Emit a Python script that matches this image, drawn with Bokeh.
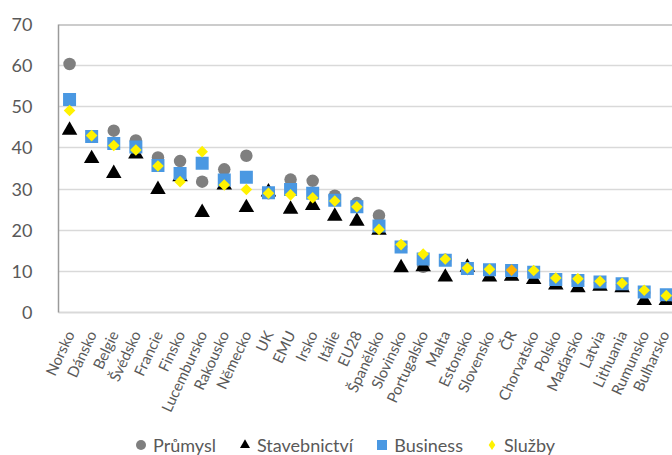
import numpy as np
from bokeh.plotting import figure
from bokeh.layouts import column
from bokeh.models import (ColumnDataSource, FixedTicker, Legend, LegendItem,
                          Span, Range1d)
from bokeh.embed import file_html
from bokeh.resources import INLINE

# Countries, sorted by the business confidence level
countries = ["Norsko", "Dánsko", "Belgie", "Švédsko", "Francie", "Finsko",
             "Lucembursko", "Rakousko", "Německo", "UK", "EMU", "Irsko",
             "Itálie", "EU28", "Španělsko", "Slovinsko", "Portugalsko", "Malta",
             "Estonsko", "Slovensko", "ČR", "Chorvatsko", "Polsko", "Maďarsko",
             "Latvia", "Lithuania", "Rumunsko", "Bulharsko"]

prumysl = [60.4, 42.8, 44.2, 41.8, 37.7, 36.8, 31.8, 34.8, 38.1, 29.0,
           32.3, 32.0, 28.4, 26.6, 23.6, 16.0, 11.1, 12.8, 10.6, 10.0,
           10.0, 9.8, 7.8, 7.6, 7.3, 6.8, 4.8, 4.0]
stavebnictvi = [44.3, 37.4, 33.8, 38.5, 29.9, 33.0, 24.3, 31.0, 25.5, 29.3,
                25.1, 26.0, 23.4, 22.2, 20.0, 10.9, 11.1, 8.6, 11.0, 8.6,
                8.8, 8.0, 6.7, 6.0, 6.4, 6.0, 2.9, 2.9]
business = [51.8, 42.8, 41.1, 40.2, 35.7, 33.8, 36.3, 32.2, 32.9, 29.1,
            29.9, 29.0, 27.3, 25.7, 21.0, 15.9, 13.0, 12.7, 10.7, 10.4,
            10.2, 9.8, 8.0, 7.8, 7.4, 7.0, 5.0, 4.3]
sluzby = [49.1, 43.0, 40.6, 39.5, 35.6, 31.8, 39.1, 31.0, 29.9, 29.0,
          28.6, 27.9, 27.1, 25.7, 20.2, 16.5, 14.2, 13.0, 10.8, 10.5,
          10.3, 10.2, 8.4, 8.2, 7.6, 7.1, 5.4, 4.1]

series_names = ["Průmysl", "Stavebnictví", "Business", "Služby"]
highlighted = "ČR"
y_ticks = [0, 10, 20, 30, 40, 50, 60, 70]

C_GRAY = "#7f7f7f"
C_BLACK = "#000000"
C_BLUE = "#4a98e2"
C_YELLOW = "#fff200"
C_ORANGE = "#ffb100"
TEXT = "#595959"
FONT = "Lato"

xpos = [i + 0.5 for i in range(len(countries))]
src = ColumnDataSource(dict(
    x=xpos, country=countries, p=prumysl, s=stavebnictvi, b=business,
    z=sluzby,
    zc=[C_ORANGE if c == highlighted else C_YELLOW for c in countries],
))

p = figure(frame_width=614, frame_height=288, output_backend="svg",
           toolbar_location=None,
           x_range=Range1d(0, 27.78), y_range=Range1d(0, 70),
           min_border_left=58, min_border_top=24, min_border_right=0,
           min_border_bottom=118)
p.outline_line_color = None
p.background_fill_color = "white"
p.border_fill_color = "white"

# value axis
p.yaxis.ticker = FixedTicker(ticks=y_ticks)
p.yaxis.major_tick_line_color = None
p.yaxis.minor_tick_line_color = None
p.yaxis.axis_line_color = "#9a9a9a"
p.yaxis.axis_line_width = 1.5
p.yaxis.major_label_standoff = 20
p.yaxis.major_label_text_font = FONT
p.yaxis.major_label_text_font_size = "18px"
p.yaxis.major_label_text_color = TEXT

# category axis
p.xaxis.ticker = FixedTicker(ticks=xpos)
p.xaxis.major_label_overrides = {x: c for x, c in zip(xpos, countries)}
p.xaxis.major_label_orientation = np.deg2rad(65)
p.xaxis.major_tick_line_color = None
p.xaxis.minor_tick_line_color = None
p.xaxis.axis_line_color = "#d9d9d9"
p.xaxis.axis_line_width = 2
p.xaxis.major_label_standoff = 13
p.xaxis.major_label_text_font = FONT
p.xaxis.major_label_text_font_size = "15px"
p.xaxis.major_label_text_color = TEXT

p.xgrid.grid_line_color = None
p.ygrid.ticker = FixedTicker(ticks=y_ticks)
p.ygrid.grid_line_color = "#d9d9d9"
p.ygrid.grid_line_width = 1.5

# top frame edge
p.add_layout(Span(location=70, dimension="width", line_color="#9a9a9a",
                  line_width=2))

p.scatter("x", "p", source=src, marker="circle", size=12.5,
          fill_color=C_GRAY, line_color=None)
p.scatter("x", "s", source=src, marker="triangle", size=15.5,
          fill_color=C_BLACK, line_color=None)
p.scatter("x", "b", source=src, marker="square", size=13,
          fill_color=C_BLUE, line_color=None)
p.scatter("x", "z", source=src, marker="square", size=8.2, angle=np.pi / 4,
          fill_color="zc", line_color=None)

# legend strip under the chart (its frame lines up with the chart's frame)
lf = figure(width=672, height=25, output_backend="svg", toolbar_location=None,
            x_axis_type=None, y_axis_type=None,
            x_range=Range1d(0, 1), y_range=Range1d(0, 1),
            min_border=0)
lf.outline_line_color = None
lf.xgrid.grid_line_color = None
lf.ygrid.grid_line_color = None

leg_markers = ["circle", "triangle", "square", "diamond"]
leg_colors = [C_GRAY, C_BLACK, C_BLUE, C_YELLOW]
items = []
for name, mk, col in zip(series_names, leg_markers, leg_colors):
    # key-only glyphs: a single undefined point, so nothing lands in the frame
    r = lf.scatter(x=[np.nan], y=[np.nan], marker=mk,
                   fill_color=col, line_color=None)
    items.append(LegendItem(label=name, renderers=[r]))

legend = Legend(items=items, orientation="horizontal", location=(70, -2),
                glyph_width=25, glyph_height=25, label_standoff=0, spacing=16,
                padding=0, margin=0, border_line_color=None,
                background_fill_alpha=0, label_text_font=FONT,
                label_text_font_size="18px", label_text_color=TEXT)
lf.add_layout(legend, "center")

open("out.html", "w").write(file_html(column(p, lf), INLINE))
